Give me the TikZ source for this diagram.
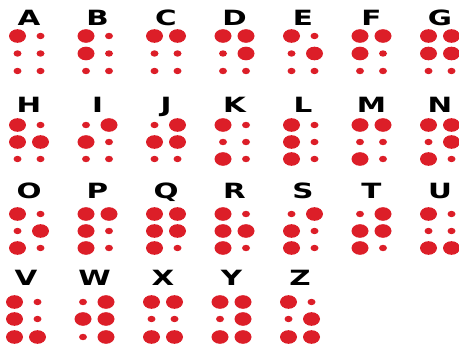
\documentclass[tikz,border=0pt]{standalone}
\usepackage{fontspec}
\newfontfamily\lf{DejaVu Sans Bold}
\definecolor{brl}{RGB}{220,30,40}
\tikzset{
  letter/.style={font=\lf\fontsize{21}{21}\selectfont, inner sep=0pt, anchor=base, text=black, xscale=1.4},
  b/.style={x radius=8.5pt, y radius=6.8pt},
  s/.style={x radius=4pt, y radius=3.2pt}
}
\newcommand\cell[8]{%
  \node[letter] (#1) at (#2,\rb) {#1};
  \fill[brl,#3] (#2-11.5,\ra) ellipse;
  \fill[brl,#4] (#2-11.5,\rc) ellipse;
  \fill[brl,#5] (#2-11.5,\rd) ellipse;
  \fill[brl,#6] (#2+11.5,\ra) ellipse;
  \fill[brl,#7] (#2+11.5,\rc) ellipse;
  \fill[brl,#8] (#2+11.5,\rd) ellipse;
}
\begin{document}
\begin{tikzpicture}[x=1pt,y=-1pt]
\useasboundingbox[fill=white] (0,0) rectangle (459,348);
% row 1
\def\rb{25}\def\ra{36}\def\rc{53.5}\def\rd{71}
\cell{A}{29}{b}{s}{s}{s}{s}{s}
\cell{B}{97.5}{b}{b}{s}{s}{s}{s}
\cell{C}{166}{b}{s}{s}{b}{s}{s}
\cell{D}{234.5}{b}{s}{s}{b}{b}{s}
\cell{E}{303}{b}{s}{s}{s}{b}{s}
\cell{F}{371.5}{b}{b}{s}{b}{s}{s}
\cell{G}{440}{b}{b}{s}{b}{b}{s}
% row 2
\def\rb{112}\def\ra{125}\def\rc{142}\def\rd{159}
\cell{H}{29}{b}{b}{s}{s}{b}{s}
\cell{I}{97.5}{s}{b}{s}{b}{s}{s}
\cell{J}{166}{s}{b}{s}{b}{b}{s}
\cell{K}{234.5}{b}{s}{b}{s}{s}{s}
\cell{L}{303}{b}{b}{b}{s}{s}{s}
\cell{M}{371.5}{b}{s}{b}{b}{s}{s}
\cell{N}{440}{b}{s}{b}{b}{b}{s}
% row 3
\def\rb{198.5}\def\ra{214}\def\rc{231}\def\rd{248}
\cell{O}{29}{b}{s}{b}{s}{b}{s}
\cell{P}{97.5}{b}{b}{b}{b}{s}{s}
\cell{Q}{166}{b}{b}{b}{b}{b}{s}
\cell{R}{234.5}{b}{b}{b}{s}{b}{s}
\cell{S}{303}{s}{b}{b}{b}{s}{s}
\cell{T}{371.5}{s}{b}{b}{b}{b}{s}
\cell{U}{440}{b}{s}{b}{s}{s}{b}
% row 4
\def\rb{285}\def\ra{302}\def\rc{319}\def\rd{337}
\cell{V}{26}{b}{b}{b}{s}{s}{b}
\cell{W}{94.5}{s}{b}{s}{b}{b}{b}
\cell{X}{163}{b}{s}{b}{b}{s}{b}
\cell{Y}{231.5}{b}{s}{b}{b}{b}{b}
\cell{Z}{300}{b}{s}{b}{s}{b}{b}
\end{tikzpicture}
\end{document}
